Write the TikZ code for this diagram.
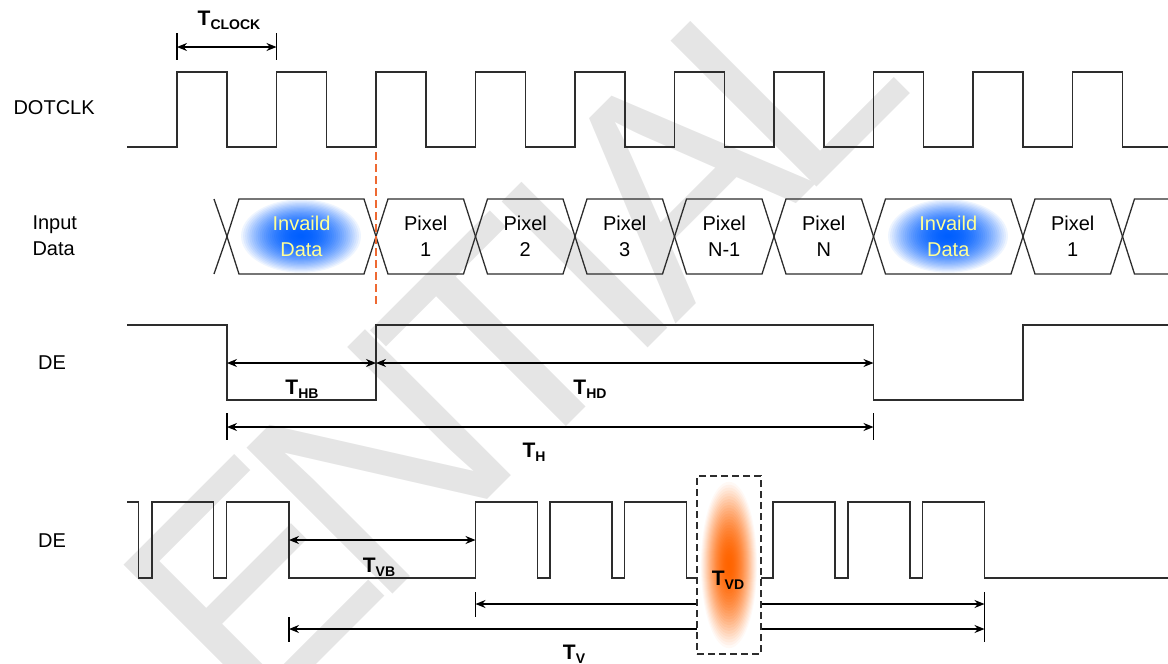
\documentclass[tikz,border=0pt]{standalone}
\usepackage{fontspec}
\setmainfont{Liberation Sans}
\usetikzlibrary{arrows.meta,calc,positioning}

\definecolor{wire}{RGB}{45,45,45}
\definecolor{cutline}{RGB}{238,105,50}
\definecolor{wmgray}{RGB}{229,229,229}
\definecolor{invtext}{RGB}{255,255,150}
\definecolor{blobb}{RGB}{0,95,255}
\definecolor{bloboe}{RGB}{255,100,0}

% T with a bold subscript
\newcommand{\tsig}[1]{{\bfseries\fontsize{21}{21}\selectfont T\raisebox{-4pt}{\fontsize{14}{14}\selectfont #1}}}

\begin{document}
\begin{tikzpicture}[x=1pt,y=-1pt,
    wire/.style={draw=wire, line width=1.3pt},
    dim/.style={draw=black, line width=1.2pt, {Stealth[length=10pt,width=8pt]}-{Stealth[length=10pt,width=8pt]}},
    tick/.style={draw=black, line width=1.2pt},
    sig/.style={font=\fontsize{20}{26}\selectfont, align=left},
    cell/.style={font=\fontsize{20}{26}\selectfont, align=center, text=black},
    bad/.style={font=\fontsize{20}{26}\selectfont, align=center, text=invtext},
    tlab/.style={inner sep=0pt},
    wm/.style={text=wmgray, font=\fontsize{300}{300}\selectfont, rotate=45, inner sep=0pt}]
  \useasboundingbox (0,0) rectangle (1168,664);

  % watermark
  \node[wm] (wE) at (250,585) {E};
  \node[wm] (wN) at (379,462) {N};
  \node[wm] (wT) at (503,344) {T};
  \node[wm] (wI) at (585,265) {I};
  \node[wm] (wA) at (673,181) {A};
  \node[wm] (wL) at (786,73) {L};

  % signal names
  \node[sig, anchor=west] (clk) at (10,108) {DOTCLK};
  \node[sig, anchor=west] (din) at (29,236) {Input\\Data};
  \node[sig] (de1) at (52,363) {DE};
  \node[sig] (de2) at (52,541) {DE};

  % DOTCLK
  \draw[wire] (127,147) \foreach \k in {0,...,9} { -- ({177+99.5*\k},147) -- ({177+99.5*\k},72) -- ({227+99.5*\k},72) -- ({227+99.5*\k},147) } -- (1168,147);
  \coordinate (ck0) at (177,47);
  \coordinate (ck1) at (276.5,47);
  \draw[tick] (177,33) -- (177,60) (276.5,33) -- (276.5,60);
  \draw[dim] (ck0) -- (ck1);
  \node[tlab] (tclk) at (229,20) {\tsig{CLOCK}};

  % invalid data blobs
  \foreach \cx in {301,948}
    \foreach \i in {0,...,29} {
      \pgfmathsetmacro\r{1-\i/30}
      \pgfmathsetmacro\m{100*(1-\r*\r)}
      \fill[blobb!\m!white] (\cx,236) ellipse [x radius={62*\r}, y radius={38*\r}];
    }

  % input data bus
  \draw[wire] (214,199) -- (227,236.5) -- (214,274);
  \foreach \a/\b in {227/376, 376/475.5, 475.5/575, 575/674.5, 674.5/774, 774/873.5, 873.5/1023, 1023/1122.5}
    \draw[wire, line join=miter] (\a,236.5) -- (\a+12,199) -- (\b-12,199) -- (\b,236.5) -- (\b-12,274) -- (\a+12,274) -- cycle;
  \draw[wire] (1168,199) -- (1134.5,199) -- (1122.5,236.5) -- (1134.5,274) -- (1168,274);
  \node[bad] (inv1) at (301.5,236) {Invaild\\Data};
  \node[cell] (px1) at (425.75,236) {Pixel\\1};
  \node[cell] (px2) at (525.25,236) {Pixel\\2};
  \node[cell] (px3) at (624.75,236) {Pixel\\3};
  \node[cell] (pxm) at (724.25,236) {Pixel\\N-1};
  \node[cell] (pxn) at (823.75,236) {Pixel\\N};
  \node[bad] (inv2) at (948.25,236) {Invaild\\Data};
  \node[cell] (px1b) at (1072.75,236) {Pixel\\1};

  % first data edge
  \draw[cutline, line width=1.8pt, dash pattern=on 8pt off 4pt] (376,152) -- (376,306);

  % DE, one line
  \draw[wire] (127,325) -- (227,325) -- (227,400) -- (376,400) -- (376,325) -- (873.5,325) -- (873.5,400) -- (1023,400) -- (1023,325) -- (1168,325);
  \coordinate (hb0) at (227,363);
  \coordinate (hb1) at (376,363);
  \coordinate (hd1) at (873.5,363);
  \coordinate (h0) at (227,427);
  \coordinate (h1) at (873.5,427);
  \draw[dim] (hb0) -- (hb1);
  \draw[dim] (hb1) -- (hd1);
  \draw[tick] (227,413) -- (227,440) (873.5,413) -- (873.5,440);
  \draw[dim] (h0) -- (h1);
  \node[tlab] (thb) at (302,389) {\tsig{HB}};
  \node[tlab] (thd) at (590,389) {\tsig{HD}};
  \node[tlab] (th) at (534,452) {\tsig{H}};

  % DE, one frame
  \draw[wire] (127,502) -- (138.5,502) -- (138.5,578) -- (152,578) -- (152,502) -- (213.5,502) -- (213.5,578) -- (226.5,578) -- (226.5,502) -- (289,502) -- (289,578) -- (475.5,578)
    \foreach \s in {475.5,550,624.5,698.5,773,848,922.5} { -- (\s,578) -- (\s,502) -- (\s+62,502) -- (\s+62,578) } -- (1168,578);
  \coordinate (vb0) at (289,540);
  \coordinate (vb1) at (475.5,540);
  \coordinate (vd0) at (475.5,604);
  \coordinate (vd1) at (984.5,604);
  \coordinate (v0) at (289,629);
  \coordinate (v1) at (984.5,629);
  \draw[dim] (vb0) -- (vb1);
  \draw[tick] (475.5,592) -- (475.5,617) (289,617) -- (289,642) (984.5,592) -- (984.5,642);
  \draw[dim] (vd0) -- (vd1);
  \draw[dim] (v0) -- (v1);
  \node[tlab] (tvb) at (379,567) {\tsig{VB}};
  \node[tlab] (tv) at (574,654) {\tsig{V}};

  % hidden lines
  \node[draw=wire, fill=white, line width=1.4pt, dash pattern=on 7pt off 4pt, minimum width=64pt, minimum height=178pt, inner sep=0pt] (gap) at (729,565) {};
  \foreach \i in {0,...,29} {
    \pgfmathsetmacro\r{1-\i/30}
    \pgfmathsetmacro\m{100*(1-\r*\r)^1.2}
    \fill[bloboe!\m!white] (729,565) ellipse [x radius={29*\r}, y radius={86*\r}];
  }
  \node[tlab] (tvd) at (728,580) {\tsig{VD}};
\end{tikzpicture}
\end{document}
